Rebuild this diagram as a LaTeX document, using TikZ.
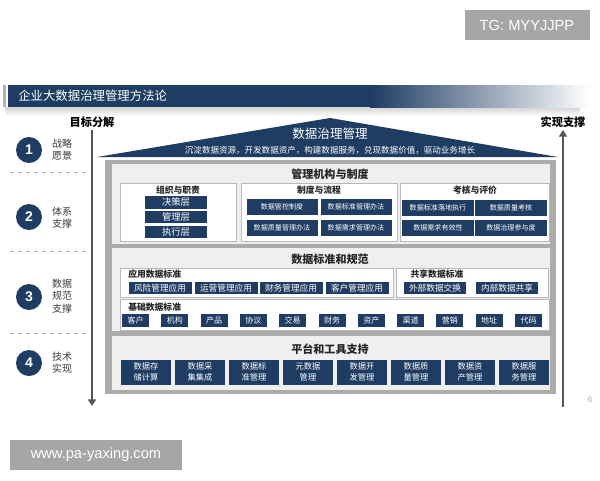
\documentclass[tikz,border=0pt]{standalone}
\usepackage{fontspec}
\setmainfont{Noto Sans CJK SC}
\newfontfamily\lat{Liberation Sans}
\usetikzlibrary{arrows.meta}
\definecolor{navy}{HTML}{1F3C63}
\definecolor{labgray}{HTML}{3A3A3A}
\definecolor{wmgray}{HTML}{A6A6A6}
\definecolor{framegray}{HTML}{ABABAB}
\definecolor{panelgray}{HTML}{EFEFEF}
\definecolor{arrgray}{HTML}{555555}
\begin{document}
\begin{tikzpicture}[x=0.75pt,y=-0.75pt,
  wh/.style 2 args={minimum width=#1*0.75pt, minimum height=#2*0.75pt},
  btn/.style={fill=navy, text=white, inner sep=0pt, align=center},
  subbox/.style={draw=gray!55, fill=white, line width=0.6pt},
  lbl/.style={text=labgray, align=center, inner sep=0pt, font=\fontsize{7.5}{9.2}\selectfont},
  circ/.style={circle, fill=navy, text=white, minimum size=19.5pt, inner sep=0pt, font=\lat\bfseries\fontsize{10.5}{10.5}\selectfont},
  sectitle/.style={text=black!85, inner sep=0pt, font=\bfseries\fontsize{8.3}{9}\selectfont},
  subtitle/.style={text=black!85, inner sep=0pt, font=\bfseries\fontsize{6.6}{7}\selectfont},
  arr/.style={line width=2pt, draw=arrgray, -{Triangle[length=5pt,width=6pt]}},
  wm/.style={fill=wmgray, text=white, inner sep=0pt, font=\lat\fontsize{11}{12}\selectfont}
]
\useasboundingbox (0,0) rectangle (600,480);
\fill[white] (0,0) rectangle (600,480);

% watermarks
\node[wm, wh={125}{30}] (tg) at (527,25) {TG: MYYJJPP};
\node[wm, wh={172}{30}] (www) at (96,455) {www.pa-yaxing.com};

% title bar
\shade[top color=gray!35, bottom color=white] (5,107) rectangle (580,116);
\fill[gray!60] (3,85) rectangle (6,107);
\fill[navy] (8,85) rectangle (370,107);
\shade[left color=navy, right color=white] (370,85) rectangle (590,107);
\node[anchor=west, text=white, inner sep=0pt, font=\fontsize{9.3}{10}\selectfont] (title) at (18,96) {企业大数据治理管理方法论};

% side headings
\node[inner sep=0pt, font=\bfseries\fontsize{8.4}{9}\selectfont] (goal) at (92,122) {目标分解};
\node[inner sep=0pt, font=\bfseries\fontsize{8.4}{9}\selectfont] (real) at (563,122) {实现支撑};

% arrows
\coordinate (la1) at (92,130);
\coordinate (la2) at (92,406);
\coordinate (ra1) at (563,407);
\coordinate (ra2) at (563,130);
\draw[arr] (la1) -- (la2);
\draw[arr] (ra1) -- (ra2);

% left column
\node[circ] (c1) at (29,150) {1};
\node[circ] (c2) at (29,217) {2};
\node[circ] (c3) at (29,297) {3};
\node[circ] (c4) at (29,363) {4};
\node[lbl] (l1) at (62,150) {战略\\愿景};
\node[lbl] (l2) at (62,218) {体系\\支撑};
\node[lbl] (l3) at (62,296) {数据\\规范\\支撑};
\node[lbl] (l4) at (62,363) {技术\\实现};
\foreach \yy in {172,251,333} \draw[gray!60, dashed, line width=0.4pt] (10,\yy) -- (88,\yy);

% roof
\fill[navy] (97,157) -- (330,118) -- (558,157) -- cycle;
\node[text=white, inner sep=0pt, font=\fontsize{9.4}{10}\selectfont] (rooft) at (330,134) {数据治理管理};
\node[text=white, inner sep=0pt, font=\fontsize{6.4}{7}\selectfont] (roofs) at (330,150) {沉淀数据资源，开发数据资产，构建数据服务，兑现数据价值，驱动业务增长};

% frame and panels
\fill[framegray] (105,160) rectangle (556,394);
\fill[panelgray] (112,164) rectangle (550,244);
\fill[panelgray] (112,248) rectangle (550,331);
\fill[panelgray] (112,336) rectangle (550,390);

% section 1
\node[sectitle] (s1) at (330,174) {管理机构与制度};
\draw[subbox] (120,183) rectangle (236,241);
\draw[subbox] (241,183) rectangle (397,241);
\draw[subbox] (400,183) rectangle (549,241);
\node[subtitle] (a0) at (178,190) {组织与职责};
\node[btn, wh={62}{13}, font=\fontsize{7}{8}\selectfont] (a1) at (176,202) {决策层};
\node[btn, wh={62}{12}, font=\fontsize{7}{8}\selectfont] (a2) at (176,217) {管理层};
\node[btn, wh={62}{12}, font=\fontsize{7}{8}\selectfont] (a3) at (176,232) {执行层};
\node[subtitle] (b0) at (319,190) {制度与流程};
\node[btn, wh={71}{16}, font=\fontsize{5.3}{6}\selectfont] (b1) at (282,207) {数据管控制度};
\node[btn, wh={71}{16}, font=\fontsize{5.3}{6}\selectfont] (b2) at (356,207) {数据标准管理办法};
\node[btn, wh={71}{16}, font=\fontsize{5.3}{6}\selectfont] (b3) at (282,228) {数据质量管理办法};
\node[btn, wh={71}{16}, font=\fontsize{5.3}{6}\selectfont] (b4) at (356,228) {数据需求管理办法};
\node[subtitle] (k0) at (475,190) {考核与评价};
\node[btn, wh={72}{16}, font=\fontsize{5.3}{6}\selectfont] (k1) at (438,208) {数据标准落地执行};
\node[btn, wh={72}{16}, font=\fontsize{5.3}{6}\selectfont] (k2) at (511,208) {数据质量考核};
\node[btn, wh={72}{16}, font=\fontsize{5.3}{6}\selectfont] (k3) at (438,228) {数据需求有效性};
\node[btn, wh={72}{16}, font=\fontsize{5.3}{6}\selectfont] (k4) at (511,228) {数据治理参与度};

% section 2
\node[sectitle] (s2) at (330,259) {数据标准和规范};
\draw[subbox] (120,268) rectangle (393,297);
\draw[subbox] (396,268) rectangle (548,297);
\draw[subbox] (120,299) rectangle (549,330);
\node[subtitle, anchor=west] (d0) at (128,274) {应用数据标准};
\node[btn, wh={63}{12}, font=\fontsize{6.5}{7}\selectfont] (d1) at (160,288) {风险管理应用};
\node[btn, wh={63}{12}, font=\fontsize{6.5}{7}\selectfont] (d2) at (226,288) {运营管理应用};
\node[btn, wh={63}{12}, font=\fontsize{6.5}{7}\selectfont] (d3) at (291,288) {财务管理应用};
\node[btn, wh={63}{12}, font=\fontsize{6.5}{7}\selectfont] (d4) at (357,288) {客户管理应用};
\node[subtitle] (e0) at (437,274) {共享数据标准};
\node[btn, wh={62}{12}, font=\fontsize{6.5}{7}\selectfont] (e1) at (435,288) {外部数据交换};
\node[btn, wh={62}{12}, font=\fontsize{6.5}{7}\selectfont] (e2) at (507,288) {内部数据共享};
\node[subtitle, anchor=west] (f0) at (128,307) {基础数据标准};
\foreach \t [count=\i from 0] in {客户,机构,产品,协议,交易,财务,资产,渠道,营销,地址,代码}
  \node[btn, wh={27}{13}, font=\fontsize{6}{7}\selectfont] (f\i) at ({135.5+39.3*\i},320) {\t};

% section 3
\node[sectitle] (s3) at (330,349) {平台和工具支持};
\foreach \t [count=\i from 0] in {{数据存\\储计算},{数据采\\集集成},{数据标\\准管理},{元数据\\管理},{数据开\\发管理},{数据质\\量管理},{数据资\\产管理},{数据服\\务管理}}
  \node[btn, wh={50}{25}, font=\fontsize{6.2}{8.2}\selectfont] (g\i) at ({146+54*\i},372) {\t};

% page number
\node[text=gray!70, inner sep=0pt, font=\lat\fontsize{6}{7}\selectfont] (pg) at (590,400) {6};
\end{tikzpicture}
\end{document}
